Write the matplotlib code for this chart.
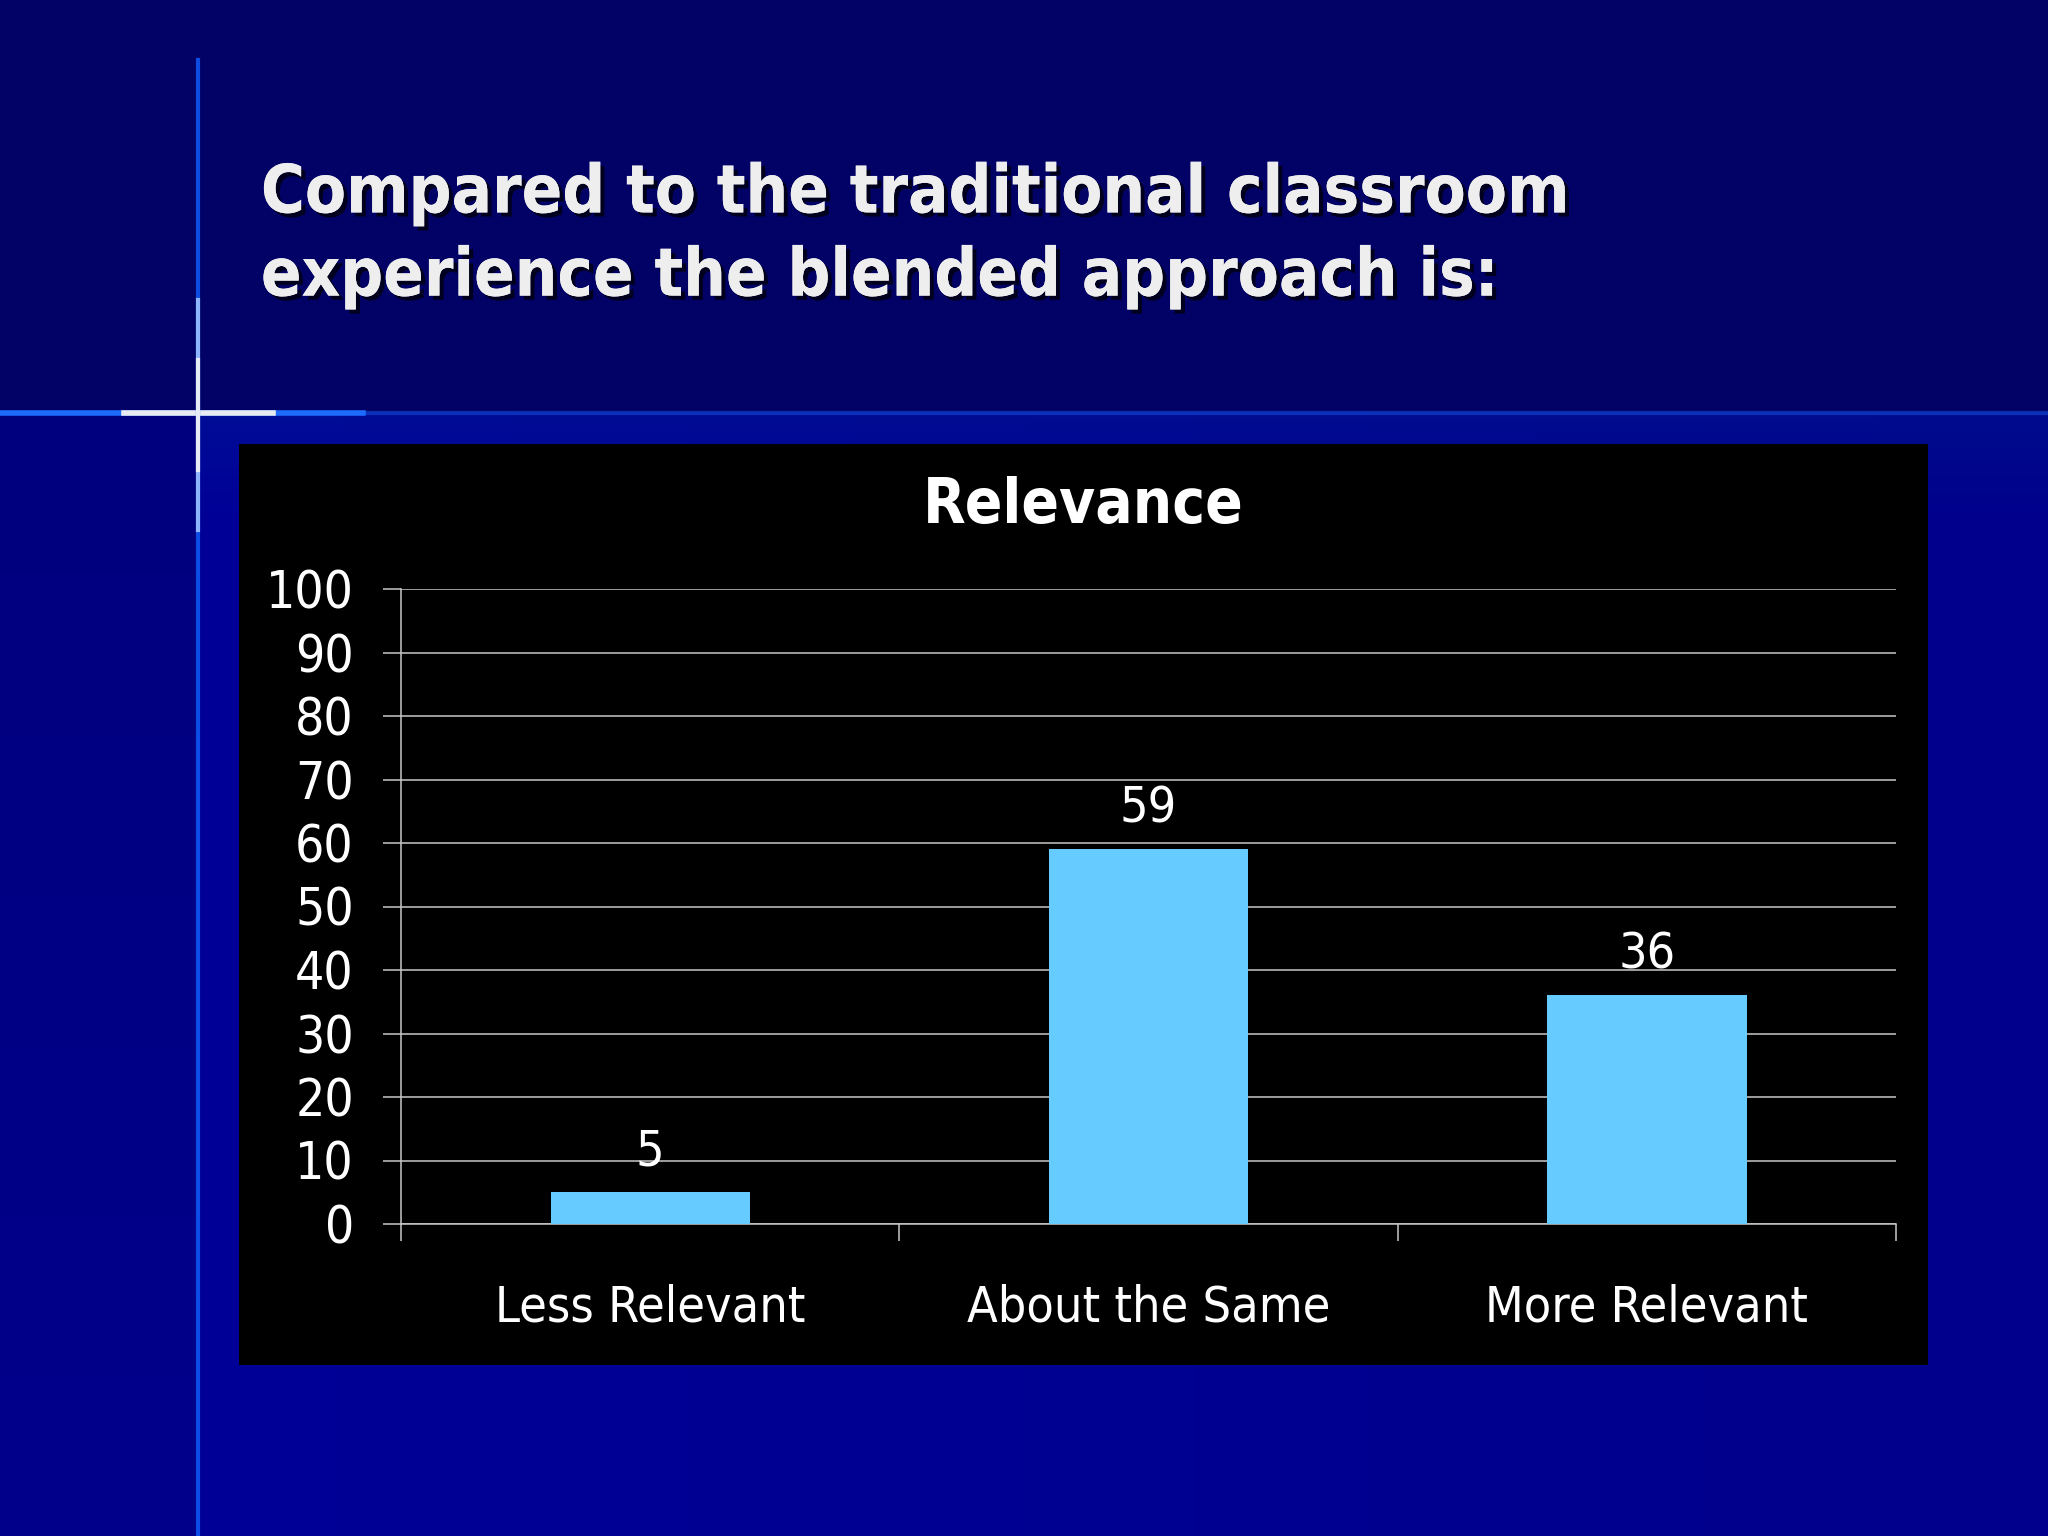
import numpy as np
import matplotlib
matplotlib.use("Agg")
import matplotlib.pyplot as plt
from matplotlib.patches import Rectangle
from matplotlib.lines import Line2D
import matplotlib.patheffects as pe

categories = ["Less Relevant", "About the Same", "More Relevant"]
values = [5, 59, 36]
y_ticks = [0, 10, 20, 30, 40, 50, 60, 70, 80, 90, 100]
slide_title = "Compared to the traditional classroom\nexperience the blended approach is:"
chart_title = "Relevance"

W, H = 2048, 1536
fig = plt.figure(figsize=(W / 100, H / 100), dpi=100)

# slide background
bg = np.zeros((H, W, 3))
yy, xx = np.mgrid[0:H, 0:W]
top = yy < 413
bg[..., 2] = 152 - 12 * (xx / W)
bg[..., 1] = np.where(yy < 520, 12 * (1 - (yy - 413) / 107), 0)
bg[top, 2] = 102
bg[top, 0] = 2
bg[top, 1] = 2
left = (~top) & (xx < 198)
bg[left, 2] = 126 + 14 * (yy[left] - 413) / (H - 413)
bg[left, 1] = 0
bg = np.clip(bg, 0, 255) / 255
bax = fig.add_axes([0, 0, 1, 1], zorder=0)
bax.imshow(bg, extent=[0, W, H, 0], aspect="auto")
bax.set_xlim(0, W)
bax.set_ylim(H, 0)
bax.axis("off")

# decorative cross lines
ly = 1 - 413 / H
lx = 198 / W
fig.lines.append(Line2D([0, 1], [ly] * 2, transform=fig.transFigure,
                        color="#1040d0", lw=3, alpha=0.7, zorder=1))
fig.lines.append(Line2D([0, 363 / W], [ly] * 2, transform=fig.transFigure,
                        color="#1e6bff", lw=4, zorder=1))
fig.lines.append(Line2D([124 / W, 273 / W], [ly] * 2, transform=fig.transFigure,
                        color="#e8ecf0", lw=4, zorder=1))
fig.lines.append(Line2D([lx] * 2, [1 - 60 / H, 0], transform=fig.transFigure,
                        color="#1060ff", lw=3, alpha=0.8, zorder=1))
fig.lines.append(Line2D([lx] * 2, [1 - 300 / H, 1 - 530 / H], transform=fig.transFigure,
                        color="#8fb4ff", lw=3, zorder=1))
fig.lines.append(Line2D([lx] * 2, [1 - 360 / H, 1 - 470 / H], transform=fig.transFigure,
                        color="#e6ecf5", lw=3, zorder=1))

fig.text(0.1274, 0.847, slide_title, color="#eeeeee", fontsize=48,
         fontweight="bold", family="DejaVu Sans", fontstretch="condensed",
         ha="left", va="center", linespacing=1.33, zorder=3,
         path_effects=[pe.withSimplePatchShadow(offset=(3, -3), shadow_rgbFace="black", alpha=0.7),
                       pe.Normal()])

# black chart panel
fig.patches.append(Rectangle((239 / W, 1 - 1365 / H), (1928 - 239) / W, (1365 - 444) / H,
                             transform=fig.transFigure, facecolor="black",
                             edgecolor="none", zorder=2))

fig.text(1083 / W, 1 - 506 / H, chart_title, color="white", fontsize=44.5,
         fontweight="bold", fontstretch="condensed", ha="center", va="center", zorder=5)

ax = fig.add_axes([401 / W, 1 - 1224 / H, (1896 - 401) / W, (1224 - 589) / H], zorder=4)
ax.set_facecolor("black")
x = np.arange(len(categories))
bars = ax.bar(x, values, width=0.4, color="#66ccff", zorder=3)
ax.set_xlim(-0.5, len(categories) - 0.5)
ax.set_ylim(0, 100)
ax.set_yticks(y_ticks)
ax.set_yticklabels([str(v) for v in y_ticks], fontsize=37, color="white",
                   fontstretch="condensed")
ax.yaxis.grid(True, color="#c8c8c8", lw=1.1)
ax.set_axisbelow(True)
ax.tick_params(axis="y", length=13, width=1.1, color="#c8c8c8", pad=21)

ax.set_xticks(np.arange(-0.5, len(categories)), labels=[])
ax.set_xticks(x, labels=categories, minor=True)
ax.tick_params(axis="x", which="major", length=12, width=1.1, color="#c8c8c8")
ax.tick_params(axis="x", which="minor", length=0, pad=43, labelsize=36, labelcolor="white")
for lab in ax.get_xticklabels(minor=True):
    lab.set_fontstretch("condensed")

for s in ["top", "right"]:
    ax.spines[s].set_visible(False)
ax.spines["left"].set_color("#c8c8c8")
ax.spines["bottom"].set_color("#c8c8c8")
ax.spines["left"].set_linewidth(1.1)
ax.spines["bottom"].set_linewidth(1.1)

for b, v in zip(bars, values):
    ax.annotate(str(v), (b.get_x() + b.get_width() / 2, v), xytext=(0, 12),
                textcoords="offset points", ha="center", va="bottom",
                color="white", fontsize=36, fontstretch="condensed")

fig.savefig("out.png", dpi=100, facecolor="#000066")
